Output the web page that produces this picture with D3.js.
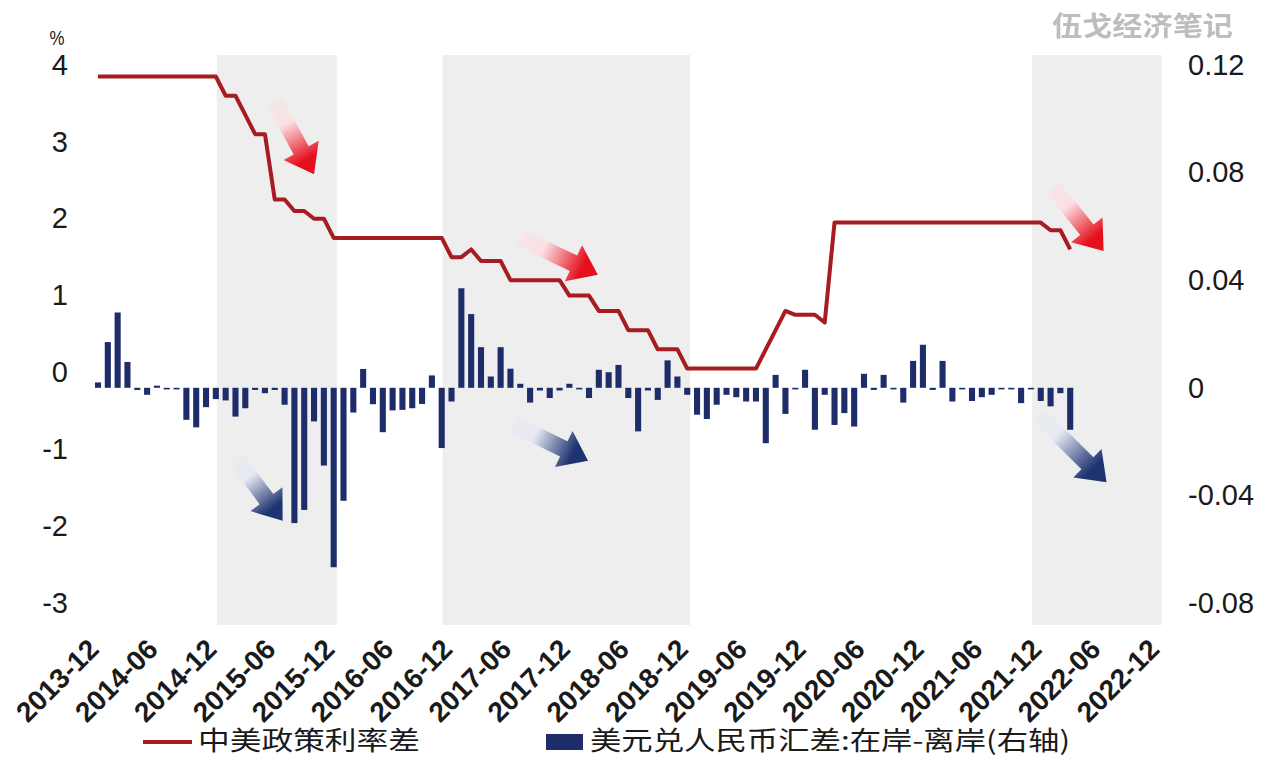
<!DOCTYPE html>
<html>
<head>
<meta charset="utf-8">
<script src="https://cdn.jsdelivr.net/npm/d3@7/dist/d3.min.js"></script>
<style>
  html, body { margin: 0; padding: 0; background: #fff; }
  svg { display: block; }
  text { font-family: "Liberation Sans", Arial, sans-serif; fill: #1a1a1a; }
  .cjk { font-family: "Noto Sans CJK SC", "Noto Sans", sans-serif; }
</style>
</head>
<body>
<svg id="chart" width="1264" height="758"></svg>
<script>
// Monthly series, 2013-12 .. 2022-03
// China–US policy rate spread (%, left axis)
const rateSpread = [
  3.85, 3.85, 3.85, 3.85, 3.85, 3.85, 3.85, 3.85, 3.85, 3.85, 3.85, 3.85, 3.85,
  3.6, 3.6, 3.35, 3.1, 3.1, 2.25, 2.25, 2.1, 2.1, 2.0, 2.0,
  1.75, 1.75, 1.75, 1.75, 1.75, 1.75, 1.75, 1.75, 1.75, 1.75, 1.75, 1.75,
  1.5, 1.5, 1.6, 1.45, 1.45, 1.45,
  1.2, 1.2, 1.2, 1.2, 1.2, 1.2,
  1.0, 1.0, 1.0, 0.8, 0.8, 0.8, 0.55, 0.55, 0.55, 0.3, 0.3, 0.3,
  0.05, 0.05, 0.05, 0.05, 0.05, 0.05, 0.05, 0.05,
  0.3, 0.55, 0.8, 0.75, 0.75, 0.75, 0.65,
  1.95, 1.95, 1.95, 1.95, 1.95, 1.95, 1.95, 1.95, 1.95, 1.95, 1.95,
  1.95, 1.95, 1.95, 1.95, 1.95, 1.95, 1.95, 1.95, 1.95, 1.95, 1.95,
  1.85, 1.85, 1.6
];

// USD/CNY onshore minus offshore (right axis)
const fxGap = [
  0.002, 0.017, 0.028, 0.0096, -0.0008, -0.0026, 0.0008, -0.0006, -0.0006, -0.0119,
  -0.0147, -0.0072, -0.0042, -0.0047, -0.0107, -0.0076, -0.0008, -0.002, -0.0008, -0.0063,
  -0.0503, -0.0454, -0.0125, -0.0289, -0.0667, -0.042, -0.0092, 0.007, -0.0061, -0.0165,
  -0.0084, -0.0082, -0.0076, -0.006, 0.0046, -0.0224, -0.0051, 0.037, 0.0274, 0.0151,
  0.0042, 0.0151, 0.0071, 0.0015, -0.0055, -0.001, -0.0038, -0.001, 0.0015, -0.0006,
  -0.0038, 0.0067, 0.0058, 0.0085, -0.0038, -0.0162, -0.001, -0.0045, 0.0102, 0.0042,
  -0.0026, -0.01, -0.0116, -0.0063, -0.0026, -0.0035, -0.0051, -0.0051, -0.0206, 0.0048,
  -0.0097, -0.0006, 0.0067, -0.0156, -0.0026, -0.0138, -0.0094, -0.0144, 0.0052, -0.0008,
  0.0048, -0.0006, -0.0055, 0.01, 0.016, -0.0008, 0.01, -0.0051, -0.0006, -0.0049,
  -0.0035, -0.0026, -0.0006, -0.0006, -0.0057, -0.0006, -0.0049, -0.0069, -0.002, -0.0156
];

const xTickLabels = [
  "2013-12", "2014-06", "2014-12", "2015-06", "2015-12", "2016-06", "2016-12",
  "2017-06", "2017-12", "2018-06", "2018-12", "2019-06", "2019-12", "2020-06",
  "2020-12", "2021-06", "2021-12", "2022-06", "2022-12"
];
const leftTicks = [4, 3, 2, 1, 0, -1, -2, -3];
const rightTicks = [0.12, 0.08, 0.04, 0, -0.04, -0.08];

// Shaded periods (month start / end)
const shadedPeriods = [
  ["2014-12", "2015-12"],
  ["2016-11", "2018-12"],
  ["2021-11", "2022-12"]
];

// Trend arrows: month offset from 2013-12 and left-axis value, tail -> tip
const trendArrows = [
  { kind: "red",  t0: 18.0, v0: 3.52,  t1: 22.0,  v1: 2.58 },
  { kind: "red",  t0: 43.0, v0: 1.75,  t1: 50.9,  v1: 1.27 },
  { kind: "red",  t0: 97.2, v0: 2.42,  t1: 102.4, v1: 1.58 },
  { kind: "blue", t0: 14.0, v0: -1.11, t1: 18.8,  v1: -1.93 },
  { kind: "blue", t0: 42.2, v0: -0.67, t1: 49.9,  v1: -1.15 },
  { kind: "blue", t0: 95.7, v0: -0.54, t1: 102.7, v1: -1.43 }
];

const legendLabels = ["中美政策利率差", "美元兑人民币汇差:在岸-离岸(右轴)"];
const watermark = "伍戈经济笔记";

// ---------------------------------------------------------------
const fmt = d3.timeFormat("%Y-%m");
const months = d3.timeMonth.range(new Date(2013, 11, 1), new Date(2023, 0, 1)).map(fmt);

// plain hyphen for negative tick labels
const hyphen = f => d => f(d).replace("\u2212", "-");

const svg = d3.select("#chart");

const x = d3.scalePoint().domain(months).range([98, 1158.6]);
const step = x.step();
const yL = d3.scaleLinear().domain([-3, 4]).range([603, 65]);
const yR = d3.scaleLinear().domain([-0.08, 0.12]).range([603, 65]);

const mx = t => x.range()[0] + t * step;

// shaded bands
svg.append("g").selectAll("rect").data(shadedPeriods).join("rect")
  .attr("x", d => x(d[0]) + 1)
  .attr("y", yL(4) - 10)
  .attr("width", d => x(d[1]) - x(d[0]) + 2)
  .attr("height", yL(-3) - yL(4) + 32)
  .attr("fill", "#eeeeee");

// bars (right axis)
const barData = fxGap.map((v, i) => ({ m: months[i], v }));
const bw = step * 0.62;
svg.append("g").selectAll("rect").data(barData).join("rect")
  .attr("x", d => x(d.m) - bw / 2)
  .attr("y", d => yR(Math.max(0, d.v)))
  .attr("width", bw)
  .attr("height", d => Math.max(1.5, Math.abs(yR(d.v) - yR(0))))
  .attr("fill", "#1f2c6a");

// policy spread line (left axis)
const lineData = rateSpread.map((v, i) => ({ m: months[i], v }));
svg.append("path")
  .datum(lineData)
  .attr("fill", "none")
  .attr("stroke", "#a61c21")
  .attr("stroke-width", 4)
  .attr("stroke-linejoin", "round")
  .attr("d", d3.line().x(d => x(d.m)).y(d => yL(d.v)));

// trend arrows with fading gradient
const defs = svg.append("defs");
const arrowColors = {
  red:  { tail: "#fbe0e3", head: "#e5101e" },
  blue: { tail: "#e6e9f2", head: "#1e3472" }
};
trendArrows.forEach((a, i) => {
  const T = [mx(a.t0), yL(a.v0)], P = [mx(a.t1), yL(a.v1)];
  const dx = P[0] - T[0], dy = P[1] - T[1];
  const len = Math.hypot(dx, dy);
  const u = [dx / len, dy / len], n = [-u[1], u[0]];
  const sw = 17, hw = 40, hl = 27;
  const B = [P[0] - u[0] * hl, P[1] - u[1] * hl];
  const pt = (p, k) => [p[0] + n[0] * k, p[1] + n[1] * k];
  const pts = [pt(T, sw / 2), pt(B, sw / 2), pt(B, hw / 2), P, pt(B, -hw / 2), pt(B, -sw / 2), pt(T, -sw / 2)];
  const g = defs.append("linearGradient")
    .attr("id", "ag" + i).attr("gradientUnits", "userSpaceOnUse")
    .attr("x1", T[0]).attr("y1", T[1]).attr("x2", P[0]).attr("y2", P[1]);
  const c = arrowColors[a.kind];
  g.append("stop").attr("offset", "0").attr("stop-color", c.tail).attr("stop-opacity", 0.5);
  g.append("stop").attr("offset", "0.3").attr("stop-color", c.tail);
  g.append("stop").attr("offset", "0.8").attr("stop-color", c.head);
  g.append("stop").attr("offset", "1").attr("stop-color", c.head);
  svg.append("path")
    .attr("d", "M" + pts.map(p => p.join(",")).join("L") + "Z")
    .attr("fill", `url(#ag${i})`);
});

// left axis
const axL = svg.append("g").attr("transform", "translate(71,0)")
  .call(d3.axisLeft(yL).tickValues(leftTicks).tickSize(0).tickPadding(3).tickFormat(hyphen(d3.format("d"))));
axL.select(".domain").remove();
axL.selectAll("text").attr("font-size", 29).attr("font-family", "Liberation Sans, Arial, sans-serif").attr("fill", "#1a1a1a");

// right axis
const axR = svg.append("g").attr("transform", "translate(1185,0)")
  .call(d3.axisRight(yR).tickValues(rightTicks).tickSize(0).tickPadding(3)
    .tickFormat(d => d === 0 ? "0" : hyphen(d3.format(".2f"))(d)));
axR.select(".domain").remove();
axR.selectAll("text").attr("font-size", 29).attr("font-family", "Liberation Sans, Arial, sans-serif").attr("fill", "#1a1a1a");

// bottom axis, rotated labels
const axB = svg.append("g").attr("transform", "translate(2,651)")
  .call(d3.axisBottom(x).tickValues(xTickLabels).tickSize(0).tickPadding(0));
axB.select(".domain").remove();
axB.selectAll("text")
  .attr("x", 0).attr("y", 0).attr("dy", 0)
  .attr("text-anchor", "end")
  .attr("transform", "rotate(-45)")
  .attr("font-size", 28)
  .attr("font-weight", "bold")
  .attr("font-family", "Liberation Sans, Arial, sans-serif")
  .attr("fill", "#1a1a1a");

// unit label
svg.append("text").attr("x", 57).attr("y", 45).attr("text-anchor", "middle")
  .attr("font-size", 20).attr("textLength", 15).attr("lengthAdjust", "spacingAndGlyphs").text("%");

// legend
svg.append("line").attr("x1", 143).attr("x2", 192).attr("y1", 742).attr("y2", 742)
  .attr("stroke", "#a61c21").attr("stroke-width", 4);
svg.append("text").attr("class", "cjk").attr("x", 198).attr("y", 750)
  .attr("font-size", 26).attr("textLength", 222).attr("lengthAdjust", "spacingAndGlyphs")
  .text(legendLabels[0]);
svg.append("rect").attr("x", 546).attr("y", 734).attr("width", 37).attr("height", 16).attr("fill", "#1f2c6a");
svg.append("text").attr("class", "cjk").attr("x", 590).attr("y", 750)
  .attr("font-size", 26).attr("textLength", 480).attr("lengthAdjust", "spacingAndGlyphs")
  .text(legendLabels[1]);

// watermark
defs.append("filter").attr("id", "soft").append("feGaussianBlur").attr("stdDeviation", 0.7);
svg.append("text").attr("class", "cjk").attr("x", 1052).attr("y", 36)
  .attr("font-size", 27).attr("font-weight", "bold").attr("textLength", 181).attr("lengthAdjust", "spacingAndGlyphs")
  .attr("fill", "#bdbdbd").style("fill", "#bdbdbd").attr("filter", "url(#soft)")
  .text(watermark);
</script>
</body>
</html>
